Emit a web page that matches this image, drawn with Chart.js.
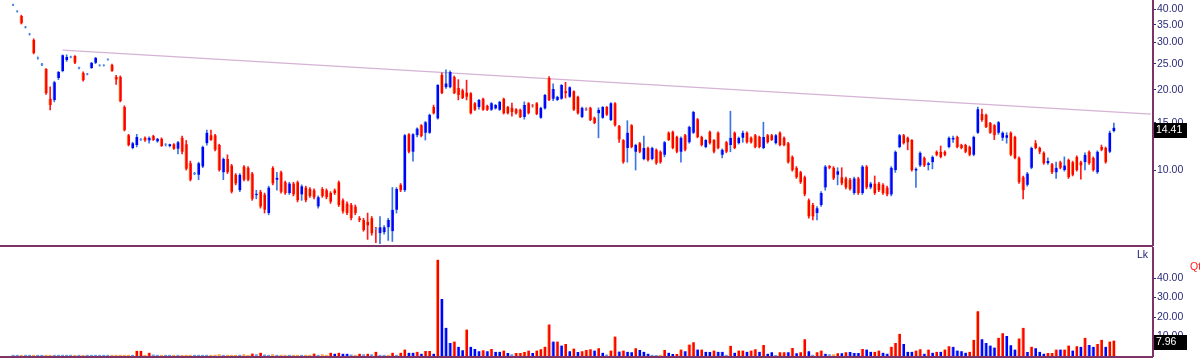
<!DOCTYPE html>
<html>
<head>
<meta charset="utf-8">
<title>Price and volume</title>
<script src="https://cdn.jsdelivr.net/npm/chart.js@4.4.1/dist/chart.umd.min.js"></script>
<style>
  html, body { margin: 0; padding: 0; background: #fff; }
  #wrap { position: relative; width: 1200px; height: 362px; overflow: hidden; }
  #priceChart { position: absolute; left: 0; top: 0; }
  #volumeChart { position: absolute; left: 0; top: 247px; }
  .tag { position: absolute; font: 10.5px "Liberation Sans", Arial, sans-serif; }
</style>
</head>
<body>
<div id="wrap">
  <canvas id="priceChart" width="1200" height="247"></canvas>
  <canvas id="volumeChart" width="1200" height="115"></canvas>
  <div class="tag" style="left:1137px;top:248px;color:#1a1a70;">Lk</div>
  <div class="tag" style="left:1190px;top:260px;color:#ff2020;">Qt</div>
</div>
<script>
// daily OHLC, oldest first
const open = [
  41.4, 39.2, 37.7, 34.2, 32.2, 30.7, 26.2, 24.8, 23.9, 18.5,
  18.3, 22.1, 23.5, 25.8, 26.4, 26.7, 24.0, 23.1, 22.8, 24.1,
  25.2, 24.6, 24.6, 25.9, 24.7, 22.3, 22.3, 17.2, 13.5, 12.1,
  12.4, 12.95, 13.2, 12.9, 13.4, 12.8, 13.1, 12.45, 12.3, 12.5,
  12.0, 13.2, 12.5, 10.6, 9.65, 9.6, 10.3, 12.6, 13.5, 13.5,
  12.4, 9.8, 11.0, 10.4, 9.6, 8.4, 10.3, 10.2, 9.7, 8.05,
  8.3, 8.1, 6.9, 10.2, 9.2, 9.8, 9.0, 8.2, 8.9, 9.0,
  8.1, 8.6, 8.5, 8.4, 7.3, 8.5, 8.4, 8.2, 8.4, 9.0,
  7.7, 7.5, 7.4, 7.3, 6.6, 6.5, 6.4, 6.6, 6.05, 5.8,
  5.85, 6.1, 5.9, 7.1, 8.8, 8.4, 13.6, 11.7, 13.5, 14.7,
  13.8, 13.8, 17.2, 15.6, 22.7, 20.4, 20.4, 22.3, 20.3, 19.9,
  19.5, 19.4, 17.8, 17.2, 18.5, 17.4, 16.8, 17.0, 16.8, 18.5,
  17.2, 17.1, 16.9, 16.8, 15.8, 17.8, 17.45, 17.8, 15.7, 17.0,
  22.1, 18.5, 18.3, 18.5, 19.7, 18.8, 19.7, 18.8, 15.8, 17.0,
  17.1, 15.7, 16.3, 15.7, 17.2, 15.4, 17.8, 14.6, 12.95, 12.1,
  14.7, 11.7, 12.6, 11.0, 12.1, 11.0, 11.9, 11.7, 11.4, 13.8,
  13.9, 13.3, 11.7, 13.5, 12.7, 13.8, 15.5, 13.3, 12.2, 13.9,
  12.95, 13.8, 11.4, 12.7, 12.4, 13.8, 12.6, 13.2, 13.8, 13.2,
  13.5, 13.3, 12.1, 13.5, 13.5, 12.6, 13.8, 13.2, 12.6, 11.2,
  10.2, 9.8, 9.4, 7.7, 7.4, 6.9, 7.4, 8.6, 10.35, 10.2,
  9.6, 9.4, 9.3, 9.2, 8.2, 9.3, 8.2, 10.3, 8.6, 8.9,
  8.9, 8.8, 8.6, 8.1, 10.0, 12.2, 13.5, 13.2, 12.95, 9.95,
  10.4, 11.1, 10.45, 10.7, 11.7, 11.7, 11.7, 12.2, 13.0, 13.3,
  12.4, 12.4, 12.2, 11.4, 13.8, 16.2, 16.1, 15.0, 14.7, 13.8,
  13.2, 13.2, 13.8, 13.3, 11.1, 9.4, 8.8, 10.2, 12.6, 12.1,
  11.6, 10.6, 10.5, 9.8, 10.7, 10.0, 10.9, 10.7, 11.2, 10.7,
  10.7, 11.7, 11.1, 9.8, 12.2, 12.1, 11.7, 14.0
];
const high = [
  41.8, 39.5, 38.0, 34.5, 32.5, 31.0, 26.5, 25.1, 24.0, 20.5,
  21.5, 23.4, 27.0, 27.0, 26.7, 26.8, 24.3, 23.3, 23.0, 25.3,
  26.4, 24.8, 24.8, 26.1, 24.9, 22.6, 22.5, 17.4, 13.6, 12.7,
  13.6, 13.1, 13.3, 13.3, 13.5, 13.15, 13.2, 12.55, 12.5, 12.55,
  12.8, 13.4, 12.9, 10.8, 9.8, 10.7, 12.3, 14.1, 14.1, 13.6,
  12.5, 11.1, 11.4, 10.5, 9.7, 9.7, 10.4, 10.3, 9.8, 8.4,
  8.4, 8.2, 8.7, 10.3, 9.8, 9.9, 9.1, 9.0, 9.0, 9.1,
  8.8, 8.7, 8.6, 8.5, 8.0, 8.6, 8.5, 8.3, 8.5, 9.1,
  7.8, 7.6, 7.5, 7.4, 6.7, 6.6, 6.9, 6.7, 6.1, 6.7,
  6.2, 6.6, 8.6, 8.6, 8.9, 13.6, 13.7, 13.7, 14.4, 14.8,
  15.2, 16.2, 17.5, 20.9, 23.1, 23.7, 23.5, 22.5, 21.8, 20.1,
  21.7, 19.5, 17.9, 18.4, 18.6, 17.5, 17.9, 17.6, 18.1, 18.6,
  17.3, 17.8, 17.0, 16.9, 18.0, 17.9, 17.6, 17.9, 17.2, 19.2,
  22.4, 21.0, 18.9, 20.9, 21.3, 20.5, 19.8, 18.9, 17.2, 17.1,
  17.2, 15.8, 17.1, 17.3, 17.3, 17.9, 17.9, 14.7, 13.0, 15.3,
  14.8, 12.5, 12.7, 13.4, 12.2, 12.2, 12.0, 11.8, 12.8, 13.9,
  14.0, 13.4, 13.3, 13.6, 14.6, 16.6, 15.6, 13.4, 13.0, 14.0,
  13.0, 13.9, 12.0, 12.8, 16.6, 13.9, 13.3, 14.0, 13.9, 13.3,
  13.6, 13.4, 15.1, 13.6, 13.6, 13.6, 13.9, 13.3, 12.7, 11.3,
  10.3, 9.9, 9.5, 7.8, 7.5, 7.3, 8.3, 10.4, 10.4, 10.3,
  10.2, 10.2, 9.4, 9.3, 9.4, 9.4, 10.4, 10.4, 9.0, 9.5,
  9.0, 8.9, 8.7, 10.3, 11.8, 13.6, 13.6, 13.3, 13.0, 10.2,
  11.7, 11.2, 10.7, 11.3, 11.8, 12.3, 11.8, 13.3, 13.4, 13.4,
  12.5, 12.5, 12.3, 13.4, 17.2, 16.9, 16.2, 15.1, 14.8, 15.2,
  13.9, 13.8, 13.9, 13.4, 11.2, 9.5, 9.8, 12.2, 12.9, 12.2,
  11.7, 11.1, 10.6, 10.7, 10.8, 11.2, 11.0, 10.8, 11.3, 10.8,
  11.6, 11.8, 11.2, 11.8, 12.4, 12.2, 14.0, 15.0
];
const low = [
  41.2, 39.0, 35.2, 34.0, 32.0, 27.2, 26.0, 24.6, 19.2, 16.8,
  18.0, 21.8, 23.3, 25.5, 26.3, 25.0, 23.9, 21.5, 22.7, 24.0,
  25.0, 24.5, 24.5, 25.8, 23.4, 20.9, 18.0, 14.0, 12.3, 12.0,
  12.2, 12.9, 12.8, 12.6, 12.9, 12.7, 12.25, 12.3, 12.2, 11.95,
  11.5, 11.5, 10.0, 9.1, 9.6, 9.2, 10.2, 12.4, 12.9, 11.8,
  9.9, 9.2, 9.7, 8.2, 8.8, 8.3, 9.1, 9.1, 7.7, 7.8,
  7.2, 6.9, 6.8, 8.8, 8.4, 8.2, 8.1, 8.1, 8.0, 7.6,
  7.7, 7.6, 7.9, 7.8, 7.2, 7.9, 7.8, 7.5, 8.1, 7.3,
  6.9, 6.8, 6.5, 6.8, 6.4, 5.9, 5.5, 5.7, 5.35, 5.3,
  5.75, 5.45, 5.4, 6.9, 8.3, 8.3, 11.6, 10.8, 13.3, 13.3,
  12.95, 13.7, 16.2, 15.5, 19.3, 20.2, 20.3, 19.3, 18.3, 18.5,
  18.3, 16.2, 16.7, 16.9, 16.7, 16.7, 16.7, 16.9, 16.7, 16.2,
  16.2, 15.9, 16.2, 15.7, 15.5, 16.2, 17.2, 16.1, 15.6, 16.9,
  18.2, 18.2, 18.2, 18.4, 18.6, 18.7, 16.7, 16.2, 15.7, 16.7,
  15.3, 14.9, 13.2, 15.6, 16.0, 15.3, 14.6, 12.7, 10.6, 10.7,
  12.1, 10.0, 11.6, 10.9, 10.8, 10.9, 10.5, 10.6, 11.2, 12.9,
  12.0, 11.6, 10.7, 11.8, 12.6, 13.7, 13.2, 12.3, 12.1, 12.5,
  11.6, 12.0, 11.1, 11.6, 11.7, 12.0, 12.5, 12.7, 12.6, 12.6,
  12.1, 12.1, 12.0, 12.6, 12.9, 12.5, 12.3, 12.3, 10.6, 9.9,
  9.3, 8.9, 8.0, 6.6, 6.5, 6.5, 7.3, 8.4, 10.1, 9.2,
  8.8, 8.8, 8.5, 8.4, 8.1, 8.1, 8.1, 8.5, 8.5, 8.1,
  8.3, 8.1, 8.0, 8.0, 9.8, 12.1, 12.5, 11.9, 9.9, 8.6,
  10.3, 10.3, 10.0, 10.1, 11.3, 11.1, 11.3, 12.1, 12.7, 12.1,
  12.0, 11.6, 11.3, 11.3, 13.7, 15.2, 14.4, 13.7, 13.0, 13.6,
  12.9, 12.6, 11.3, 11.0, 8.9, 7.8, 8.7, 10.1, 12.0, 11.5,
  10.5, 10.5, 9.7, 9.3, 10.1, 9.9, 9.3, 9.5, 9.9, 9.25,
  10.0, 10.5, 9.9, 9.7, 11.8, 10.6, 11.6, 13.9
];
const close = [
  41.6, 39.4, 35.4, 34.4, 32.4, 27.4, 26.4, 25.0, 19.4, 17.5,
  21.3, 23.3, 26.9, 26.5, 26.6, 25.2, 24.2, 21.7, 22.95, 25.2,
  26.3, 24.75, 24.75, 26.05, 23.5, 21.8, 18.1, 14.1, 12.4, 12.6,
  13.3, 13.05, 12.9, 13.2, 12.95, 13.1, 12.3, 12.55, 12.5, 12.0,
  12.7, 11.7, 10.1, 9.2, 9.75, 10.6, 12.2, 13.8, 12.95, 11.9,
  10.0, 11.0, 9.8, 8.3, 8.9, 9.6, 9.2, 9.2, 7.8, 8.15,
  7.3, 7.1, 8.6, 8.9, 9.35, 8.3, 8.2, 8.9, 8.1, 7.7,
  8.7, 7.7, 8.0, 7.9, 7.9, 8.0, 7.9, 7.6, 8.2, 7.4,
  7.0, 6.9, 6.6, 6.9, 6.5, 5.96, 6.2, 5.8, 5.98, 6.1,
  6.1, 6.5, 7.1, 8.5, 8.4, 13.5, 11.7, 13.6, 14.3, 13.4,
  15.1, 16.1, 16.3, 20.8, 19.4, 21.1, 23.3, 19.4, 19.1, 18.6,
  18.8, 16.3, 16.8, 18.3, 16.8, 16.8, 17.8, 17.5, 18.0, 16.3,
  16.3, 16.5, 16.3, 15.8, 17.5, 16.3, 17.35, 16.2, 17.1, 19.1,
  18.3, 20.1, 18.8, 20.8, 19.4, 20.4, 16.8, 16.3, 17.1, 16.8,
  15.4, 15.0, 16.8, 17.2, 16.1, 17.8, 14.7, 13.0, 10.7, 13.8,
  12.2, 12.4, 11.7, 12.1, 10.9, 12.1, 10.6, 10.7, 12.7, 12.95,
  12.1, 11.7, 13.2, 11.9, 14.5, 16.5, 13.3, 12.4, 12.95, 12.6,
  11.7, 12.1, 11.9, 11.7, 13.2, 12.1, 13.2, 13.8, 12.7, 12.7,
  12.2, 12.2, 13.3, 12.7, 12.95, 13.5, 12.4, 12.4, 10.7, 10.0,
  9.4, 9.0, 8.1, 6.7, 6.7, 7.2, 8.2, 10.3, 10.2, 9.3,
  9.9, 8.9, 8.6, 8.5, 9.3, 8.2, 10.3, 8.6, 8.9, 8.2,
  8.4, 8.2, 8.1, 10.2, 11.7, 13.5, 12.6, 12.7, 10.0, 10.1,
  11.6, 10.4, 10.6, 11.2, 11.4, 11.2, 11.4, 13.2, 13.2, 12.2,
  12.1, 11.7, 11.4, 13.3, 16.9, 15.4, 14.5, 13.8, 13.5, 15.1,
  13.8, 13.5, 11.4, 11.1, 9.0, 8.4, 9.7, 12.1, 12.1, 11.7,
  10.6, 10.8, 9.8, 10.2, 10.2, 10.4, 9.4, 9.6, 10.0, 10.4,
  11.4, 10.6, 10.0, 11.7, 11.9, 10.7, 13.8, 14.41
];
// volume (lakh) and bar colour side: b = blue, r = red
const volume = [
  0.7, 0.7, 0.7, 0.7, 0.7, 0.7, 0.7, 0.7, 0.7, 0.7,
  0.7, 0.7, 0.7, 0.7, 0.7, 0.7, 0.7, 0.7, 0.7, 0.7,
  0.7, 0.7, 0.7, 0.7, 0.7, 0.7, 0.7, 0.7, 0.7, 0.7,
  2.7, 2.7, 0.7, 1.7, 0.8, 0.7, 0.7, 0.7, 0.7, 0.7,
  0.7, 0.7, 0.7, 0.7, 0.7, 0.7, 0.7, 0.7, 0.7, 0.7,
  0.9, 0.7, 0.7, 0.7, 0.7, 0.7, 0.9, 0.7, 1.3, 0.9,
  1.7, 0.8, 0.7, 0.9, 0.7, 0.7, 0.7, 0.7, 0.7, 0.7,
  0.7, 0.7, 0.7, 1.3, 0.7, 0.9, 0.7, 1.7, 1.2, 1.7,
  1.2, 1.2, 0.8, 0.7, 1.2, 0.9, 1.2, 0.9, 2.2, 0.7,
  0.7, 0.7, 1.7, 0.7, 1.7, 3.3, 1.7, 1.7, 2.2, 1.2,
  2.6, 2.6, 1.2, 49.4, 29.2, 14.5, 6.7, 7.4, 4.7, 2.9,
  13.6, 4.7, 3.6, 2.4, 2.9, 2.4, 3.6, 2.2, 2.2, 2.8,
  1.6, 0.9, 1.6, 1.6, 2.1, 2.8, 1.6, 2.8, 3.5, 4.8,
  16.2, 7.4, 7.4, 5.4, 6.2, 2.4, 3.8, 2.1, 2.4, 3.1,
  3.5, 2.8, 4.0, 1.7, 0.8, 2.8, 10.0, 2.3, 2.8, 2.2,
  1.9, 4.0, 3.1, 2.2, 1.2, 0.7, 0.5, 0.7, 3.1, 1.7,
  1.0, 1.0, 3.3, 2.4, 5.9, 7.1, 3.3, 3.3, 2.2, 2.1,
  2.8, 2.2, 2.2, 0.7, 5.2, 1.7, 2.8, 2.8, 2.2, 2.8,
  3.5, 2.2, 5.7, 1.2, 1.9, 0.5, 1.9, 1.9, 1.9, 4.1,
  1.4, 1.9, 8.6, 2.4, 0.7, 1.9, 2.8, 1.2, 0.9, 0.9,
  1.4, 1.4, 1.9, 2.1, 1.6, 1.6, 3.6, 3.3, 2.2, 2.2,
  2.8, 1.7, 1.2, 4.8, 6.7, 11.4, 6.2, 2.2, 2.2, 2.8,
  3.5, 1.2, 3.3, 1.7, 2.2, 2.2, 3.3, 5.0, 4.7, 2.8,
  2.4, 1.7, 2.2, 8.3, 23.0, 8.6, 6.7, 5.4, 4.3, 9.3,
  11.7, 10.2, 5.5, 3.3, 9.0, 14.5, 2.1, 4.8, 4.0, 2.2,
  1.2, 1.6, 1.6, 3.3, 3.3, 3.3, 5.4, 2.8, 5.0, 4.7,
  9.3, 5.7, 4.7, 6.2, 8.3, 4.7, 7.4, 7.96
];
const volumeSide = (
  'bbrbbrbbrr' + 'bbbbbrbrbb' + 'bbbbrrrrrb' + 'rrrrbbrbbr' + 'brrrbbbbrr' +
  'rbrrrbrrrb' + 'rbbrbrrbrr' + 'brrrbrrrbr' + 'bbbrrbrbrb' + 'brrbrrbbrb' +
  'rrbrbbbrbb' + 'rbbbrbrbbr' + 'bbrrrrbrrr' + 'rbrbrbrbrr' + 'rbrbbrrbrb' +
  'brbbbbbrrb' + 'brrbrrbrbb' + 'rbbbrbrrbr' + 'rbrbbbrrbr' + 'brrbbrrbbr' +
  'rbrbbbrbbr' + 'rbbrrrbbbr' + 'rbrbrbrrbb' + 'bbrrrbbbbr' + 'rbbbrrbrbb' +
  'brrrbrrbrb' + 'rbbrrbrr'
).split('');

const priceTicks = [10, 15, 20, 25, 30, 35, 40];
const volumeTicks = [10, 20, 30, 40];
const trendLine = [{ x: 12, y: 28.1 }, { x: 276, y: 16.2 }];
const lastPrice = 14.41;
const lastVolume = 7.96;

// a few empty sessions after the last candle, as in the original
const emptySlots = 9;
const slots = Array.from({ length: open.length + emptySlots }, (_, i) => i);

const frameColor = '#7d3366';
const tickColor = '#2b2b7a';
const tickFont = { family: '"Liberation Sans", Arial, sans-serif', size: 10.5 };

const isDoji = close.map((c, i) => Math.abs(c - open[i]) / open[i] < 0.012);
const bodyFill = close.map((c, i) => isDoji[i] ? '#5b8fe8' : c > open[i] ? '#0000ff' : '#ff0000');
const bodyEdge = close.map((c, i) => isDoji[i] ? '#8fb3ee' : c > open[i] ? '#6f9fe8' : '#ffa347');
const wickFill = close.map((c, i) => c >= open[i] ? '#3a74e6' : '#ff1a1a');
const volumeFill = volumeSide.map((s, i) => s === 'b'
  ? (volume[i] < 1 ? '#6d9be6' : '#0000ff')
  : (volume[i] < 1 ? '#ffa24a' : '#ff0000'));
const volumeEdge = volumeSide.map(s => s === 'b' ? '#7aa6ec' : '#ffa347');

// bottom rule of each panel and the black "last value" box on the axis
const panelFrame = {
  id: 'panelFrame',
  afterDraw(chart, args, opts) {
    const { ctx, chartArea } = chart;
    const y = Math.round(chart.scales.y.getPixelForValue(opts.value));
    ctx.save();
    ctx.strokeStyle = frameColor;
    ctx.lineWidth = 2;
    ctx.beginPath();
    ctx.moveTo(0, chartArea.bottom + 1);
    ctx.lineTo(chartArea.right, chartArea.bottom + 1);
    ctx.stroke();
    ctx.fillStyle = '#000';
    ctx.fillRect(chartArea.right + 1, y - 5, 33, 15);
    ctx.fillStyle = '#fff';
    ctx.font = '10.5px "Liberation Sans", Arial, sans-serif';
    ctx.textBaseline = 'middle';
    ctx.fillText(opts.label, chartArea.right + 3, y + 2.5);
    ctx.restore();
  }
};

function rightAxis(extra) {
  return Object.assign({
    position: 'right',
    afterFit: s => { s.width = 47; s.paddingTop = 0; s.paddingBottom = 0; },
    ticks: { color: tickColor, font: tickFont, padding: 1, autoSkip: false,
             callback: v => Number(v).toFixed(2) },
    grid: { drawOnChartArea: false, tickLength: 3, tickColor: tickColor },
    border: { color: frameColor, width: 2 }
  }, extra);
}

new Chart(document.getElementById('priceChart'), {
  type: 'bar',
  data: {
    labels: slots,
    datasets: [
      { type: 'line', data: trendLine, borderColor: '#d5b3d5', borderWidth: 1.2,
        pointRadius: 0, order: 3 },
      { data: low.map((l, i) => [l, high[i]]), backgroundColor: wickFill,
        barThickness: 1, grouped: false, order: 2 },
      { data: open.map((o, i) => [o, close[i]]), backgroundColor: bodyFill,
        borderColor: bodyEdge, borderWidth: { left: 1 }, borderSkipped: false,
        barThickness: 3, grouped: false, order: 1 }
    ]
  },
  options: {
    responsive: false,
    animation: false,
    events: [],
    layout: { autoPadding: false, padding: { left: 11, right: 0, top: 0, bottom: 2 } },
    plugins: {
      legend: { display: false },
      tooltip: { enabled: false },
      panelFrame: { value: lastPrice, label: lastPrice.toFixed(2) }
    },
    scales: {
      x: { display: false, offset: true },
      y: rightAxis({
        type: 'logarithmic', min: 5.24, max: 43.3,
        afterBuildTicks: s => { s.ticks = priceTicks.map(v => ({ value: v })); }
      })
    }
  },
  plugins: [panelFrame]
});

new Chart(document.getElementById('volumeChart'), {
  type: 'bar',
  data: {
    labels: slots,
    datasets: [{
      data: volume, backgroundColor: volumeFill, borderColor: volumeEdge,
      borderWidth: { left: 1 }, borderSkipped: false, barThickness: 3
    }]
  },
  options: {
    responsive: false,
    animation: false,
    events: [],
    layout: { autoPadding: false, padding: { left: 11, right: 0, top: 1, bottom: 6 } },
    plugins: {
      legend: { display: false },
      tooltip: { enabled: false },
      panelFrame: { value: lastVolume, label: lastVolume.toFixed(2) }
    },
    scales: {
      x: { display: false, offset: true },
      y: rightAxis({
        min: 0, max: 55.4,
        afterBuildTicks: s => { s.ticks = volumeTicks.map(v => ({ value: v })); }
      })
    }
  },
  plugins: [panelFrame]
});
</script>
</body>
</html>
